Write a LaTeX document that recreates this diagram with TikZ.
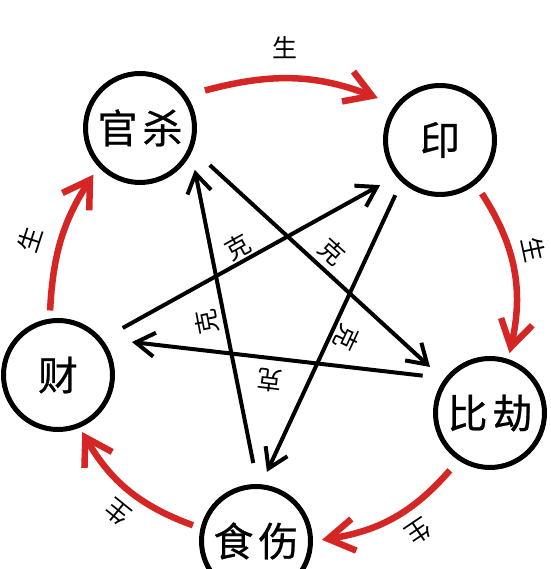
\documentclass[tikz,border=0pt]{standalone}
\usepackage{fontspec}
\newfontfamily\cjk[FakeBold=0.6]{Noto Sans CJK SC}
\newfontfamily\cjklbl{Noto Sans CJK SC}
\usetikzlibrary{arrows.meta,calc}
\definecolor{arcred}{RGB}{212,38,36}
\begin{document}
\begin{tikzpicture}[x=1pt,y=1pt,
  elem/.style={circle,draw=black,line width=5pt,minimum size=109pt,inner sep=0pt,outer sep=0pt,font=\cjk\fontsize{40}{40}\selectfont},
  ke/.style={draw=black,line width=4pt,-{Straight Barb[length=19pt,width=24pt]}},
  sheng/.style={draw=arcred,line width=6.5pt,-{Straight Barb[length=26pt,width=32pt]}},
  lbl/.style={font=\cjklbl\fontsize{25}{25}\selectfont,inner sep=0pt}]
\useasboundingbox (0,0) rectangle (550,569);
\fill[white] (0,0) rectangle (550,569);
% elements
\node[elem] (gs)  at (140,441) {官\hspace{5pt}杀};
\node[elem] (yin) at (440,429) {印};
\node[elem] (bj)  at (490,156) {比\hspace{5pt}劫};
\node[elem] (ss)  at (256,28)  {食\hspace{5pt}伤};
\node[elem] (cai) at (58,194)  {财};
% ke lines (pentagram)
\draw[ke] ($(gs)+(-28:79)$)   -- ($(bj)+(142.5:75.6)$);
\draw[ke] ($(ss)+(92:78)$)    -- ($(gs)+(-37.4:69)$);
\draw[ke] ($(cai)+(36:80)$)   -- ($(yin)+(-143:75)$);
\draw[ke] ($(yin)+(-129:71)$) -- ($(ss)+(81:70)$);
\draw[ke] ($(bj)+(151:77)$)   -- ($(cai)+(24:81)$);
% sheng arcs
\draw[sheng] ($(gs)+(30:75)$)   to[out=15,in=159]  ($(yin)+(146:75)$);
\draw[sheng] ($(yin)+(-52:68)$) to[out=-57,in=77]  ($(bj)+(72:63)$);
\draw[sheng] ($(bj)+(-125:70)$) to[out=-131,in=9]  ($(ss)+(1:66)$);
\draw[sheng] ($(ss)+(166:65)$)  to[out=160,in=-60] ($(cai)+(-67:62)$);
\draw[sheng] ($(cai)+(97:65)$)  to[out=87,in=237]  ($(gs)+(-135:66)$);
% labels
\node[lbl] (s1) at (285,521) {生};
\node[lbl,rotate=-78] (s2) at (534,319) {生};
\node[lbl,rotate=-146] (s3) at (419,37) {生};
\node[lbl,rotate=141] (s4) at (118,57) {生};
\node[lbl,rotate=72] (s5) at (30,329) {生};
\node[lbl,rotate=29] (k1) at (238,322) {克};
\node[lbl,rotate=-42] (k2) at (332,317) {克};
\node[lbl,rotate=101] (k3) at (207,247) {克};
\node[lbl,rotate=-115] (k4) at (347,231) {克};
\node[lbl,rotate=173] (k5) at (270,189) {克};
\end{tikzpicture}
\end{document}
